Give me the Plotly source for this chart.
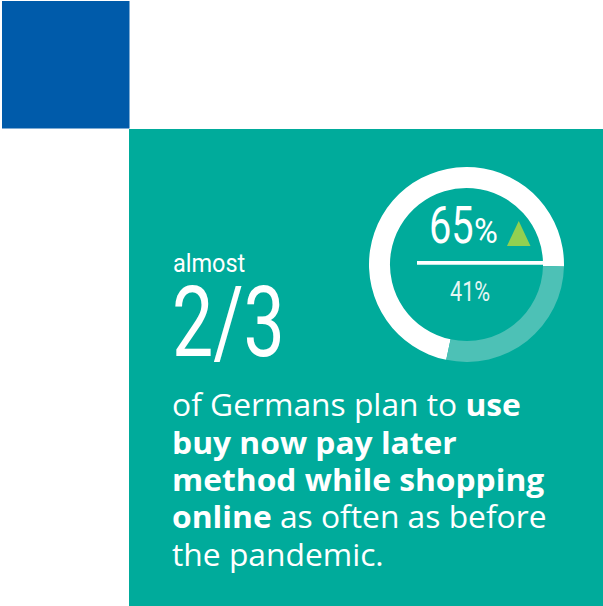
import plotly.graph_objects as go

# ---- data ----
ring_labels = ["Plan to use as often", "Other"]
ring_values = [72, 28]          # arc shares as drawn in the ring
headline_pct = 65
prior_pct = 41
lead_small = "almost"
lead_big = "2/3"
body_lines = [
    "of Germans plan to <b>use</b>",
    "<b>buy now pay later</b>",
    "<b>method while shopping</b>",
    "<b>online</b> as often as before",
    "the pandemic.",
]

# ---- styles ----
W, H = 603, 606
BLUE = "#005BAA"
TEAL = "#00AB9B"
TEAL_LIGHT = "#4DC1B6"
GREEN = "#92D050"
NARROW = "Roboto, sans-serif"
BODY = "Open Sans, sans-serif"

cx, cy, r = 466.5, 264.5, 97.5

fig = go.Figure()
fig.add_trace(go.Pie(
    labels=ring_labels, values=ring_values, hole=0.785, sort=False,
    direction="clockwise", rotation=192,
    marker=dict(colors=["#FFFFFF", TEAL_LIGHT], line=dict(width=0)),
    textinfo="none", hoverinfo="skip", showlegend=False,
    domain=dict(x=[(cx - r) / W, (cx + r) / W], y=[1 - (cy + r) / H, 1 - (cy - r) / H]),
))

shapes = [
    dict(type="rect", xref="x", yref="y", x0=2, y0=1, x1=129.5, y1=128.5,
         fillcolor=BLUE, line=dict(width=0), layer="below"),
    dict(type="rect", xref="x", yref="y", x0=129, y0=129, x1=W, y1=H,
         fillcolor=TEAL, line=dict(width=0), layer="below"),
    dict(type="rect", xref="x", yref="y", x0=417, y0=261, x1=548, y1=264.7,
         fillcolor="#FFFFFF", line=dict(width=0), layer="above"),
    dict(type="path", xref="x", yref="y", path="M 507 246 L 530.5 246 L 518.75 221 Z",
         fillcolor=GREEN, line=dict(width=0), layer="above"),
]

# (annotation, horizontal squeeze to mimic the condensed display face)
ann = []
squeeze = []
def add(a, sx=1.0, origin="0% 0%"):
    a.update(xref="x", yref="y", showarrow=False)
    ann.append(a)
    squeeze.append((sx, origin))

add(dict(x=171, y=280, text=lead_small, xanchor="left", yanchor="bottom",
         font=dict(family=NARROW, size=25, color="white")), 0.94)
add(dict(x=170, y=382, text=lead_big, xanchor="left", yanchor="bottom",
         font=dict(family=NARROW, size=98, color="white")), 0.75)
add(dict(x=427, y=257, text=f"{headline_pct}", xanchor="left", yanchor="bottom",
         font=dict(family=NARROW, size=51, color="white")), 0.78)
add(dict(x=472, y=254, text="%", xanchor="left", yanchor="bottom",
         font=dict(family=NARROW, size=35, color="white")), 0.93)
add(dict(x=470, y=310, text=f"{prior_pct}%", xanchor="center", yanchor="bottom",
         font=dict(family=NARROW, size=27, color="#E6F5F3")), 0.8, "50% 0%")
baselines = [416.7, 455, 492.3, 529.3, 567]
for line, b in zip(body_lines, baselines):
    add(dict(x=170, y=b + 10, text=line, xanchor="left", yanchor="bottom",
             font=dict(family=BODY, size=31, color="white")), 1.025)

css = []
for i, (sx, origin) in enumerate(squeeze):
    if sx != 1.0:
        css.append(
            f'.annotation[data-index="{i}"] text.annotation-text'
            f'{{transform-box:fill-box;transform-origin:{origin};transform:scaleX({sx});}}'
        )
post = ("var st=document.createElement('style');st.textContent=%r;"
        "document.head.appendChild(st);") % "".join(css)

fig.update_layout(
    width=W, height=H, margin=dict(l=0, r=0, t=0, b=0),
    paper_bgcolor="white", plot_bgcolor="rgba(0,0,0,0)",
    xaxis=dict(range=[0, W], visible=False, domain=[0, 1], fixedrange=True),
    yaxis=dict(range=[H, 0], visible=False, domain=[0, 1], fixedrange=True),
    shapes=shapes, annotations=ann, showlegend=False,
)
fig.write_html("out.html", config=dict(displayModeBar=False), post_script=post)
